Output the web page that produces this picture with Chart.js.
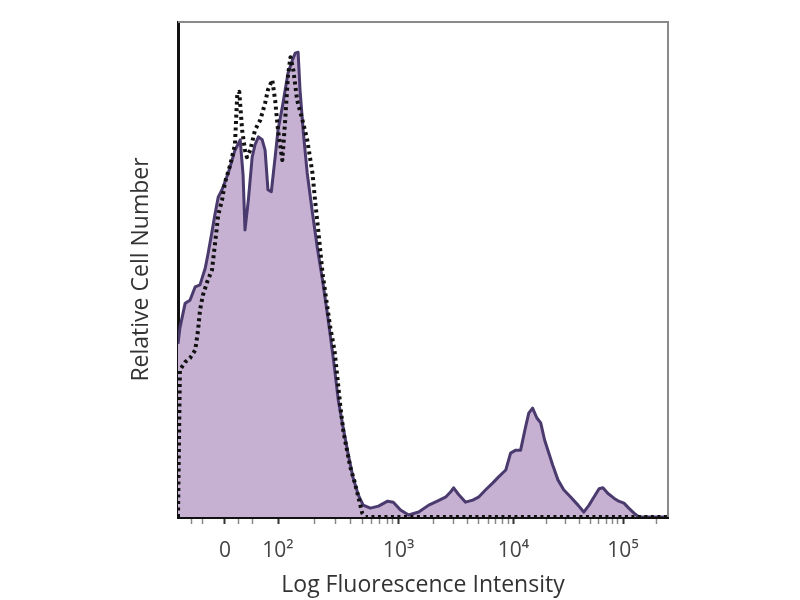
<!DOCTYPE html>
<html><head><meta charset="utf-8">
<script src="https://cdn.jsdelivr.net/npm/chart.js@4.4.0/dist/chart.umd.min.js"></script>
<style>html,body{margin:0;padding:0;background:#fff}</style>
</head><body>
<canvas id="c" width="800" height="600"></canvas>
<script>
// Display channel (0-1024, biexponential scale) and relative cell number (% of max)
const stainedChannels = [0,4,15,25,36,46,57,63,71,77,84,92,105,113,119,130,136,140,147,155,161,168,176,182,188,195,203,209,218,224,230,239,245,251,255,262,270,281,291,302,314,325,335,346,356,366,377,387,402,419,438,450,465,482,503,524,542,559,570,576,586,601,616,628,643,658,670,685,695,706,716,725,733,741,750,758,766,773,783,794,806,821,836,848,859,869,880,888,898,911,921,932,942,953,963,978,1024];
const stainedCounts   = [35,38.2,43.2,43.8,46.5,46.9,50.3,53.3,57.6,61.0,64.6,66.1,69.5,72.1,74.1,76.2,69.1,58.0,64.0,72.7,75.2,76.8,76.2,74.1,66.1,65.7,72.7,78.2,82.8,86.3,89.7,92.3,93.7,93.9,86.3,77.6,69.5,61.4,54.5,47.9,39.8,31.7,23.6,17.6,12.5,7.9,4.4,2.4,1.8,2.2,3.2,3.0,1.4,0.4,1.0,2.4,3.2,4.0,5.1,5.9,4.6,3.0,3.4,4.0,5.5,6.9,8.1,9.5,12.9,13.5,13.5,17.6,21.0,22.0,20.0,19.0,15.6,13.5,10.5,7.5,5.5,4.0,2.4,1.0,2.4,4.0,5.7,5.9,4.8,3.8,3.2,2.8,1.8,0.8,0,0,0];
const isotypeChannels = [0,4,15,25,36,42,46,52,61,71,77,84,92,98,109,119,124,128,134,140,144,151,161,172,182,188,197,203,209,218,224,230,235,241,249,260,270,281,287,293,302,310,318,327,333,339,346,354,360,369,375,381,385,392,1024];
const isotypeCounts   = [0,29.7,31.3,32.1,33.7,37.8,41.8,44.8,47.5,49.9,54.9,61.0,64.0,67.5,71.1,75.2,85.7,85.9,78.2,74.1,72.7,74.1,78.2,80.2,83.6,86.3,88.3,84.2,78.2,72.1,80.2,89.3,92.9,90.3,84.2,80.2,76.2,69.5,63.4,58.0,49.3,43.8,38.4,33.7,28.3,22.6,17.0,13.1,10.1,7.1,4.8,2.4,0.8,0,0];
const majorTickValues = [98, 209, 461, 701, 930];
const majorTickLabels = ['0', '10²', '10³', '10⁴', '10⁵'];
const minorTickValues = [29,52,126,155,285,329,361,385,405,422,437,449,533,575,605,629,648,664,678,690,770,810,839,861,879,895,908,919,999];

const toXY = (xs, ys) => xs.map((x, i) => ({x, y: ys[i]}));
const allTicks = majorTickValues.concat(minorTickValues).sort((a, b) => a - b);
const labelFor = v => { const i = majorTickValues.indexOf(v); return i >= 0 ? majorTickLabels[i] : ''; };

const framePlugin = {
  id: 'frame',
  afterDraw(chart) {
    const {ctx, chartArea: a} = chart;
    ctx.save();
    ctx.strokeStyle = '#8a8a8a';
    ctx.lineWidth = 2;
    ctx.beginPath();
    ctx.moveTo(a.left, a.top);
    ctx.lineTo(a.right, a.top);
    ctx.lineTo(a.right, a.bottom);
    ctx.stroke();
    ctx.restore();
  }
};

new Chart(document.getElementById('c'), {
  type: 'line',
  data: {
    datasets: [
      {
        label: 'Isotype control',
        data: toXY(isotypeChannels, isotypeCounts),
        borderColor: '#111111',
        borderWidth: 4,
        borderDash: [3, 3.5],
        borderJoinStyle: 'round',
        fill: false,
        pointRadius: 0,
        tension: 0
      },
      {
        label: 'Stained',
        data: toXY(stainedChannels, stainedCounts),
        borderColor: '#4a3a6e',
        backgroundColor: '#c6b1d2',
        borderWidth: 3,
        borderJoinStyle: 'round',
        fill: 'origin',
        pointRadius: 0,
        tension: 0
      }
    ]
  },
  options: {
    responsive: false,
    animation: false,
    layout: {padding: {left: 124, right: 132, top: 22, bottom: 0}},
    plugins: {legend: {display: false}, tooltip: {enabled: false}},
    scales: {
      x: {
        type: 'linear',
        min: 0,
        max: 1024,
        afterBuildTicks: s => { s.ticks = allTicks.map(v => ({value: v})); },
        afterFit: s => { s.height = 83; },
        ticks: {
          autoSkip: false,
          maxRotation: 0,
          padding: 14,
          color: '#444',
          font: {family: 'Open Sans', size: 21},
          callback: v => labelFor(v)
        },
        grid: {
          display: true,
          drawOnChartArea: false,
          drawTicks: true,
          tickLength: 7,
          tickColor: c => labelFor(c.tick && c.tick.value) ? '#333' : '#888',
          tickWidth: c => labelFor(c.tick && c.tick.value) ? 2 : 1.5
        },
        border: {display: true, color: '#111', width: 3},
        title: {
          display: true,
          text: 'Log Fluorescence Intensity',
          color: '#333',
          font: {family: 'Open Sans', size: 23},
          padding: {top: 0, bottom: 1}
        }
      },
      y: {
        min: 0,
        max: 100,
        afterFit: s => { s.width = 54; },
        ticks: {display: false},
        grid: {display: false},
        border: {display: true, color: '#111', width: 3},
        title: {
          display: true,
          text: 'Relative Cell Number',
          color: '#333',
          font: {family: 'Open Sans', size: 23},
          padding: {top: 4, bottom: 0}
        }
      }
    }
  },
  plugins: [framePlugin]
});
</script>
</body></html>
